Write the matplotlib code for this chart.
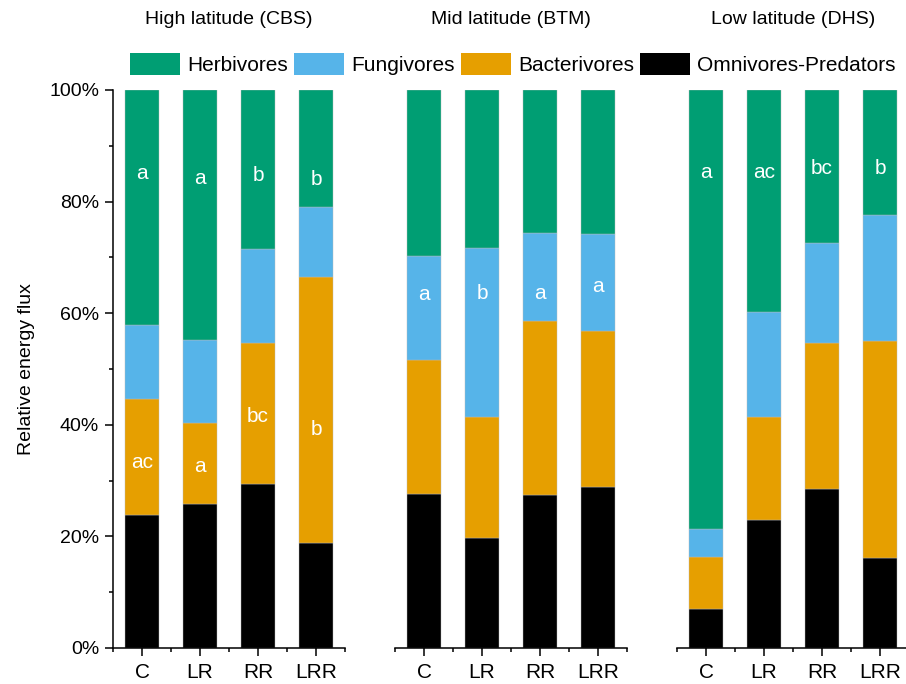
import numpy as np
import matplotlib
matplotlib.use("Agg")
import matplotlib.pyplot as plt
from matplotlib.patches import Patch
from matplotlib.ticker import FixedLocator, PercentFormatter

plt.rcParams['font.family'] = ['Liberation Sans', 'DejaVu Sans']

treatments = ["C", "LR", "RR", "LRR"]
sites = ["High latitude (CBS)", "Mid latitude (BTM)", "Low latitude (DHS)"]
groups = ["Herbivores", "Fungivores", "Bacterivores", "Omnivores-Predators"]
colors = ["#009E73", "#56B4E9", "#E69F00", "#000000"]

# relative energy flux (%) per site, per treatment
omni = [[23.8, 25.8, 29.4, 18.8],
        [27.6, 19.7, 27.4, 28.9],
        [7.0, 22.9, 28.5, 16.1]]
bact = [[20.8, 14.5, 25.3, 47.7],
        [24.0, 21.7, 31.2, 27.9],
        [9.3, 18.5, 26.2, 38.9]]
fungi = [[13.3, 14.9, 16.8, 12.5],
         [18.7, 30.3, 15.8, 17.4],
         [5.0, 18.8, 17.9, 22.6]]
herb = [[100 - o - b - f for o, b, f in zip(omni[i], bact[i], fungi[i])] for i in range(3)]

# significance letters: (site, group the letter sits in, letters)
letters = [
    (0, "Herbivores", ["a", "a", "b", "b"]),
    (0, "Bacterivores", ["ac", "a", "bc", "b"]),
    (1, "Fungivores", ["a", "b", "a", "a"]),
    (2, "Herbivores", ["a", "ac", "bc", "b"]),
]
letter_y = [
    [85.1, 84.2, 84.6, 84.0],
    [33.2, 32.6, 41.4, 39.1],
    [63.3, 63.6, 63.6, 64.7],
    [85.3, 85.3, 86.0, 86.0],
]

W, H = 906, 684
fig = plt.figure(figsize=(W / 100, H / 100), dpi=100)

lefts = [113, 395, 677]
aw = 232
bottom_px, top_px = 648, 90
axes = []
x = np.arange(len(treatments))
for i in range(3):
    ax = fig.add_axes([lefts[i] / W, 1 - bottom_px / H, aw / W, (bottom_px - top_px) / H])
    axes.append(ax)
    b = np.zeros(4)
    for vals, c in zip([omni[i], bact[i], fungi[i], herb[i]], colors[::-1]):
        ax.bar(x, vals, width=0.6, bottom=b, color=c, edgecolor="#bbbbbb", linewidth=0.3)
        b = b + np.array(vals)
    ax.set_xlim(-0.5, 3.5)
    ax.set_ylim(0, 100)
    ax.spines["top"].set_visible(False)
    ax.spines["right"].set_visible(False)
    ax.spines["bottom"].set_linewidth(1.1)
    ax.spines["left"].set_linewidth(1.1)
    ax.set_xticks(x)
    ax.set_xticklabels(treatments, fontsize=15)
    ax.xaxis.set_minor_locator(FixedLocator(np.arange(-0.5, 4, 1)))
    ax.tick_params(axis="x", which="major", length=6, width=1.1, pad=5)
    ax.tick_params(axis="x", which="minor", length=3, width=1.1)
    if i == 0:
        ax.set_yticks(np.arange(0, 101, 20))
        ax.yaxis.set_major_formatter(PercentFormatter(decimals=0))
        ax.yaxis.set_minor_locator(FixedLocator(np.arange(10, 100, 20)))
        ax.tick_params(axis="y", which="major", length=6, width=1.1, labelsize=14, pad=4)
        ax.tick_params(axis="y", which="minor", length=3, width=1.1)
        ax.set_ylabel("Relative energy flux", fontsize=14, labelpad=10)
    else:
        ax.spines["left"].set_visible(False)
        ax.set_yticks([])
    fig.text((lefts[i] + aw / 2) / W, 1 - 20 / H, sites[i], ha="center", va="center", fontsize=14)

for (site, grp, labs), ys in zip(letters, letter_y):
    for j, (lab, yy) in enumerate(zip(labs, ys)):
        axes[site].text(j, yy, lab, ha="center", va="center", color="white", fontsize=15)

handles = [Patch(facecolor=c, edgecolor="none") for c in colors]
fig.legend(handles, groups, loc="center", bbox_to_anchor=(513 / W, 1 - 64 / H), ncol=4,
           frameon=False, fontsize=15, handlelength=2.4, handleheight=1.2,
           handletextpad=0.33, columnspacing=0.3, borderaxespad=0)

fig.savefig("out.png", dpi=100)
